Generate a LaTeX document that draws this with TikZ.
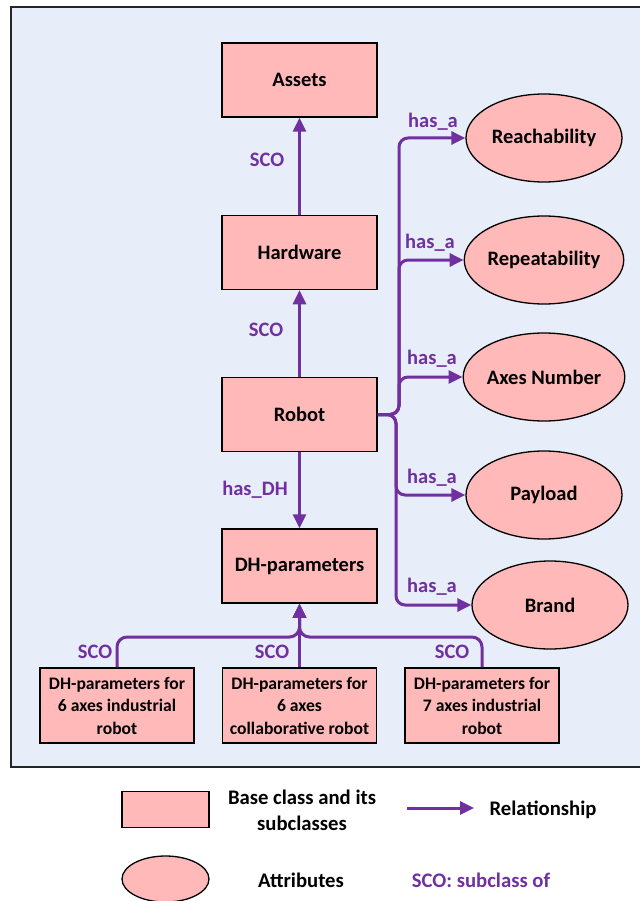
\documentclass[tikz,border=0pt]{standalone}
\usepackage{fontspec}
\setmainfont{Carlito}
\usetikzlibrary{arrows.meta,shapes.geometric}
\definecolor{panel}{RGB}{231,237,249}
\definecolor{salmon}{RGB}{255,185,185}
\definecolor{relpurple}{RGB}{112,48,160}
\begin{document}
\begin{tikzpicture}[x=1pt,y=-1pt,
  font=\fontsize{20.5}{24}\selectfont\bfseries,
  classbox/.style={draw=black,line width=1.5pt,fill=salmon,minimum width=155pt,minimum height=74pt,inner sep=0pt},
  subbox/.style={classbox,font=\fontsize{17.6}{22.5}\selectfont\bfseries,align=center},
  attr/.style={ellipse,draw=black,line width=1.3pt,fill=salmon,minimum width=156pt,minimum height=88pt,inner sep=0pt},
  legrect/.style={draw=black,line width=1.5pt,fill=salmon,minimum width=87pt,minimum height=36pt,inner sep=0pt},
  legell/.style={ellipse,draw=black,line width=1.3pt,fill=salmon,minimum width=87pt,minimum height=46pt,inner sep=0pt},
  rel/.style={draw=relpurple,line width=3pt,-{Triangle[length=14pt,width=13pt]}},
  rellabel/.style={text=relpurple},
  legtext/.style={align=center,font=\fontsize{20.7}{26}\selectfont\bfseries}]

\useasboundingbox (0,0) rectangle (639,901);

% panel behind the class diagram
\draw[fill=panel,draw=black!85,line width=2.5pt] (11,7) rectangle (652,767);

% class hierarchy
\node[classbox] (assets) at (299.5,80) {Assets};
\node[classbox] (hardware) at (299.5,252.5) {Hardware};
\node[classbox] (robot) at (299.5,414.5) {Robot};
\node[classbox] (dh) at (299.5,566) {DH-parameters};

\node[subbox,minimum width=154pt,minimum height=75pt] (dh6i) at (117,705.5) {DH-parameters for\\6 axes industrial\\robot};
\node[subbox,minimum width=154pt,minimum height=75pt] (dh6c) at (299.5,705.5) {DH-parameters for\\6 axes\\collaborative robot};
\node[subbox,minimum width=154pt,minimum height=75pt] (dh7i) at (482,705.5) {DH-parameters for\\7 axes industrial\\robot};

% attributes
\node[attr] (reach) at (544,138) {Reachability};
\node[attr] (repeat) at (544,260) {Repeatability};
\node[attr] (axes) at (544,377) {Axes Number};
\node[attr] (payload) at (544,495) {Payload};
\node[attr] (brand) at (550,605) {Brand};

% subclass links
\draw[rel] (hardware.north) -- (assets.south);
\draw[rel] (robot.north) -- (hardware.south);
\draw[rel] (robot.south) -- (dh.north);
\node[rellabel] (scoA) at (267,160) {SCO};
\node[rellabel] (scoB) at (266,330) {SCO};
\node[rellabel] (hasdh) at (255,490) {has\_DH};

\coordinate (join) at (299.5,637);
\draw[rel,rounded corners=10pt] (dh6i.north) |- (join) -- (dh.south);
\draw[rel,rounded corners=10pt] (dh7i.north) |- (join) -- (dh.south);
\draw[rel] (dh6c.north) -- (dh.south);
\node[rellabel] (sco1) at (95,652) {SCO};
\node[rellabel] (sco2) at (272,652) {SCO};
\node[rellabel] (sco3) at (452,652) {SCO};

% attribute links
\coordinate (busup) at (399,0);
\coordinate (busdown) at (396,0);
\draw[rel,rounded corners=9pt] (robot.east) -| (busup |- reach.west) -- (reach.west);
\draw[rel,rounded corners=9pt] (robot.east) -| (busup |- repeat.west) -- (repeat.west);
\draw[rel,rounded corners=9pt] (robot.east) -| (busup |- axes.west) -- (axes.west);
\draw[rel,rounded corners=9pt] (robot.east) -| (busdown |- payload.west) -- (payload.west);
\draw[rel,rounded corners=9pt] (robot.east) -| (busdown |- brand.west) -- (brand.west);
\node[rellabel] (ha1) at (433,122) {has\_a};
\node[rellabel] (ha2) at (430,243) {has\_a};
\node[rellabel] (ha3) at (432,359) {has\_a};
\node[rellabel] (ha4) at (432,478) {has\_a};
\node[rellabel] (ha5) at (432,587) {has\_a};

% legend
\node[legrect] (kbox) at (165.5,809.5) {};
\node[legtext] (kboxtxt) at (302,810) {Base class and its\\subclasses};
\node[legell] (kell) at (165.5,879) {};
\node[legtext] (kelltxt) at (301,880) {Attributes};
\coordinate (karrA) at (407,808);
\coordinate (karrB) at (474,808);
\draw[rel] (karrA) -- (karrB);
\node[legtext] (kreltxt) at (543,810) {Relationship};
\node[legtext,rellabel] (kscotxt) at (481,880) {SCO: subclass of};
\end{tikzpicture}
\end{document}
